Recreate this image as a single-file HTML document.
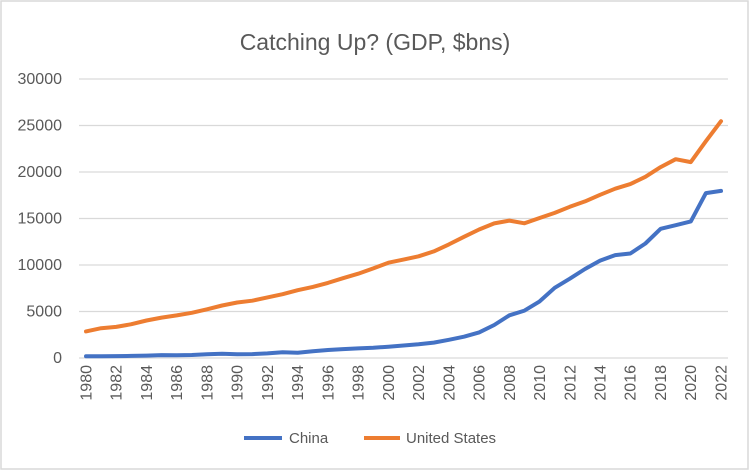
<!DOCTYPE html>
<html><head><meta charset="utf-8"><style>
html,body{margin:0;padding:0;background:#fff;}
svg{display:block;font-family:"Liberation Sans",sans-serif;}
</style></head><body>
<svg id="c" width="751" height="471" viewBox="0 0 751 471" xmlns="http://www.w3.org/2000/svg">
<rect x="1" y="1" width="747" height="468" fill="#fff" stroke="#d9d9d9" stroke-width="1.5"/>
<text x="375" y="50" text-anchor="middle" font-size="23" fill="#595959">Catching Up? (GDP, $bns)</text>
<g stroke="#d9d9d9" stroke-width="1.3">
<line x1="79" x2="728" y1="79" y2="79"/><line x1="79" x2="728" y1="125.5" y2="125.5"/>
<line x1="79" x2="728" y1="172" y2="172"/><line x1="79" x2="728" y1="218.5" y2="218.5"/>
<line x1="79" x2="728" y1="265" y2="265"/><line x1="79" x2="728" y1="311.5" y2="311.5"/>
<line x1="79" x2="728" y1="358" y2="358"/>
</g>
<g font-size="16" fill="#595959" text-anchor="end">
<text x="62" y="84">30000</text><text x="62" y="130.5">25000</text><text x="62" y="177">20000</text>
<text x="62" y="223.5">15000</text><text x="62" y="270">10000</text><text x="62" y="316.5">5000</text>
<text x="62" y="363">0</text>
</g>
<g id="yrs" font-size="16" fill="#595959" text-anchor="end">
<text transform="translate(91.5,365) rotate(-90)">1980</text>
<text transform="translate(121.7,365) rotate(-90)">1982</text>
<text transform="translate(151.9,365) rotate(-90)">1984</text>
<text transform="translate(182.2,365) rotate(-90)">1986</text>
<text transform="translate(212.4,365) rotate(-90)">1988</text>
<text transform="translate(242.6,365) rotate(-90)">1990</text>
<text transform="translate(272.9,365) rotate(-90)">1992</text>
<text transform="translate(303.1,365) rotate(-90)">1994</text>
<text transform="translate(333.4,365) rotate(-90)">1996</text>
<text transform="translate(363.6,365) rotate(-90)">1998</text>
<text transform="translate(393.8,365) rotate(-90)">2000</text>
<text transform="translate(424.1,365) rotate(-90)">2002</text>
<text transform="translate(454.3,365) rotate(-90)">2004</text>
<text transform="translate(484.5,365) rotate(-90)">2006</text>
<text transform="translate(514.8,365) rotate(-90)">2008</text>
<text transform="translate(545.0,365) rotate(-90)">2010</text>
<text transform="translate(575.3,365) rotate(-90)">2012</text>
<text transform="translate(605.5,365) rotate(-90)">2014</text>
<text transform="translate(635.7,365) rotate(-90)">2016</text>
<text transform="translate(666.0,365) rotate(-90)">2018</text>
<text transform="translate(696.2,365) rotate(-90)">2020</text>
<text transform="translate(726.5,365) rotate(-90)">2022</text>
</g>
<polyline id="cn" fill="none" stroke="#4472c4" stroke-width="4" stroke-linejoin="round" stroke-linecap="round"/>
<polyline id="us" fill="none" stroke="#ed7d31" stroke-width="4" stroke-linejoin="round" stroke-linecap="round"/>
<line x1="244" x2="282" y1="438" y2="438" stroke="#4472c4" stroke-width="4"/>
<text x="289" y="443" font-size="15" fill="#595959">China</text>
<line x1="364" x2="400" y1="438" y2="438" stroke="#ed7d31" stroke-width="4"/>
<text x="406" y="443" font-size="15" fill="#595959">United States</text>
</svg>
<script>
var us=[2857,3207,3343,3634,4037,4339,4580,4855,5236,5641,5963,6158,6520,6859,7287,7640,8073,8578,9063,9631,10251,10582,10936,11458,12214,13037,13815,14475,14770,14479,15049,15600,16254,16843,17551,18206,18695,19480,20527,21373,21060,23315,25464];
var cn=[191,196,205,231,260,309,301,327,408,457,395,415,494,617,564,734,863,961,1029,1094,1211,1339,1471,1660,1955,2286,2752,3550,4594,5102,6087,7552,8532,9570,10476,11062,11233,12310,13895,14280,14688,17734,17963];
function pts(a){return a.map(function(v,i){return (86+i*15.12).toFixed(1)+","+(358-v*0.0093).toFixed(1)}).join(" ");}
document.getElementById("us").setAttribute("points",pts(us));
document.getElementById("cn").setAttribute("points",pts(cn));
</script>
</body></html>
